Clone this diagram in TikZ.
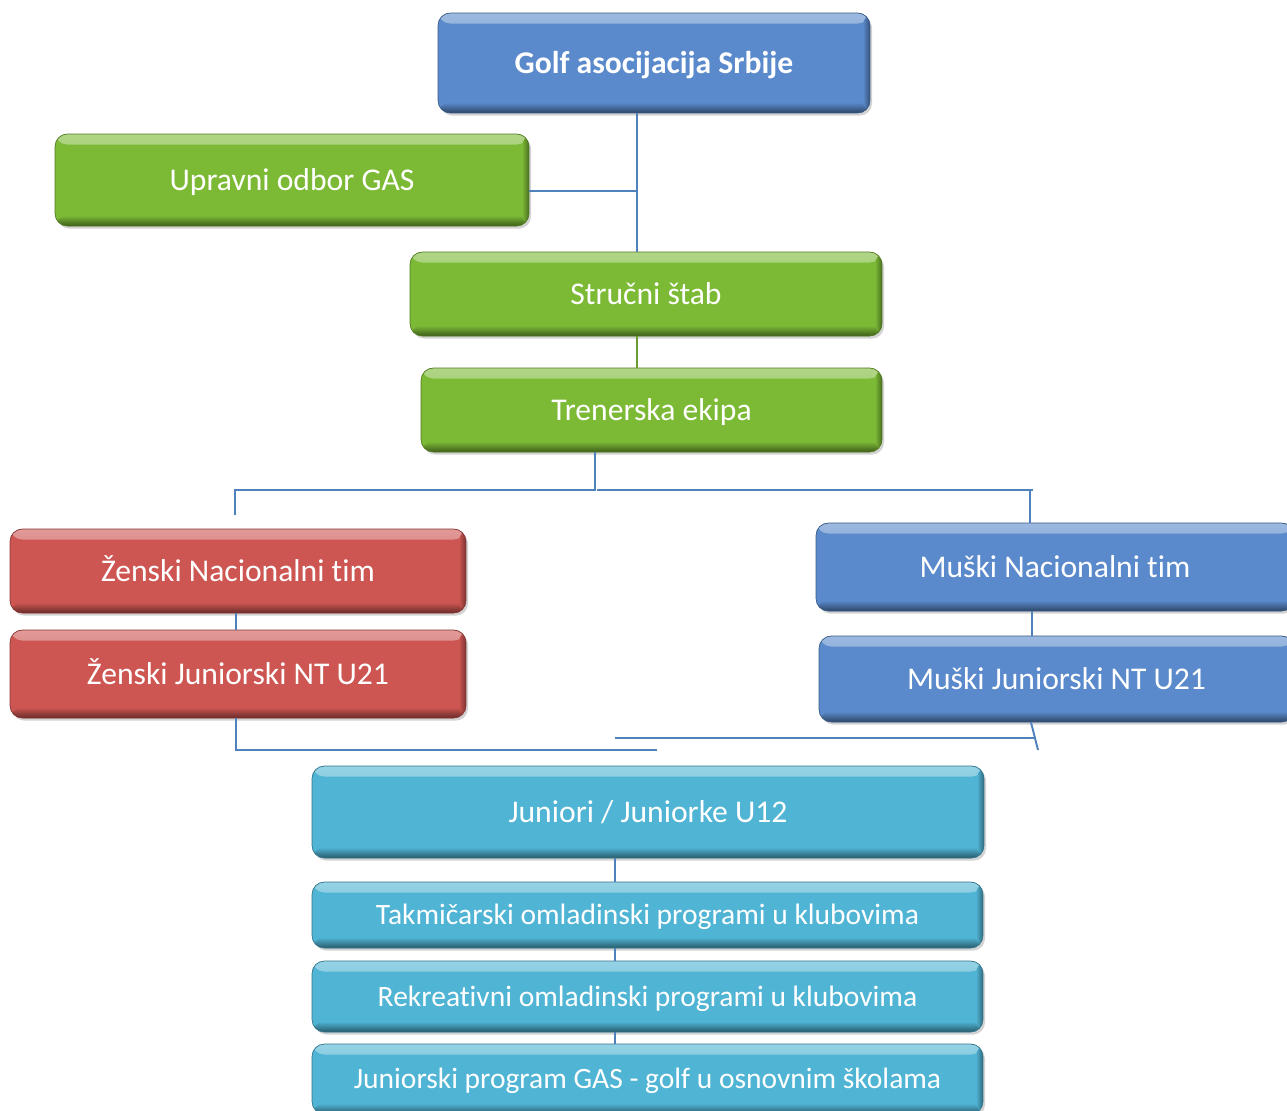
\documentclass[tikz,border=0pt]{standalone}
\usepackage{fontspec}
\setmainfont[Ligatures=NoCommon]{Carlito}
\usetikzlibrary{shadows}
\definecolor{gasblue}{HTML}{5A8ACB}
\definecolor{gasgreen}{HTML}{7CBA36}
\definecolor{gasred}{HTML}{CD5652}
\definecolor{gascyan}{HTML}{50B4D4}
\definecolor{linkblue}{HTML}{4F81BD}
\tikzset{
  box/.style={draw=#1!65!black, fill=#1, rounded corners=7pt, text=white, inner sep=0pt,
    font=\fontsize{18}{21}\selectfont, text height=12pt, text depth=0pt,
    drop shadow={shadow xshift=1.2pt, shadow yshift=-1.5pt, opacity=.35},
    path picture={
      \shade[top color=#1!60!white, bottom color=#1] (path picture bounding box.north west)
        rectangle ([yshift=-6pt]path picture bounding box.north east);
      \shade[top color=#1, bottom color=#1!50!black] ([yshift=6pt]path picture bounding box.south west)
        rectangle (path picture bounding box.south east);
      \shade[left color=#1, right color=#1!60!black] ([xshift=-4pt]path picture bounding box.south east)
        rectangle (path picture bounding box.north east);
    }},
  small/.style={font=\fontsize{16.8}{19}\selectfont, text height=11pt},
  link/.style={draw=linkblue, line width=1.1pt}
}
\begin{document}
\begin{tikzpicture}[x=0.02cm, y=-0.02cm]
\useasboundingbox (0,0) rectangle (1287,1110);
% boxes
\node[box=gasblue, minimum width=8.64cm, minimum height=2cm, font=\fontsize{18}{21}\selectfont\bfseries] (gas) at (654,63) {Golf asocijacija Srbije};
\node[box=gasgreen, minimum width=9.48cm, minimum height=1.84cm] (upravni) at (292,180) {Upravni odbor GAS};
\node[box=gasgreen, minimum width=9.44cm, minimum height=1.68cm] (strucni) at (646,294) {Stručni štab};
\node[box=gasgreen, minimum width=9.22cm, minimum height=1.68cm] (trener) at (651.5,410) {Trenerska ekipa};
\node[box=gasred, minimum width=9.12cm, minimum height=1.68cm] (zNT) at (238,571) {Ženski Nacionalni tim};
\node[box=gasred, minimum width=9.12cm, minimum height=1.76cm] (zJr) at (238,674) {Ženski Juniorski NT U21};
\node[box=gasblue, minimum width=9.56cm, minimum height=1.76cm] (mNT) at (1055,567) {Muški Nacionalni tim};
\node[box=gasblue, minimum width=9.5cm, minimum height=1.72cm] (mJr) at (1056.5,679) {Muški Juniorski NT U21};
\node[box=gascyan, minimum width=13.44cm, minimum height=1.84cm] (u12) at (648,812) {Juniori / Juniorke U12};
\node[box=gascyan, small, minimum width=13.42cm, minimum height=1.32cm] (tak) at (647.5,915) {Takmičarski omladinski programi u klubovima};
\node[box=gascyan, small, minimum width=13.42cm, minimum height=1.42cm] (rek) at (647.5,996.5) {Rekreativni omladinski programi u klubovima};
\node[box=gascyan, small, minimum width=13.42cm, minimum height=1.40cm] (jgas) at (647.5,1079) {Juniorski program GAS - golf u osnovnim školama};
% connectors
\coordinate (j1) at (637,191);
\coordinate (j2) at (595,490);
\coordinate (zl) at (235,515);
\coordinate (j3) at (597,490);
\coordinate (mr) at (1033,490);
\coordinate (mt) at (1030,490);
\coordinate (zx) at (236,0);
\coordinate (mx) at (1032,0);
\coordinate (bl) at (657,750);
\coordinate (br1) at (615,738);
\coordinate (br2) at (1035,738);
\coordinate (mx2) at (1031,0);
\coordinate (bs) at (1038,750);
\coordinate (lx) at (615,0);
\draw[link] (gas.south -| j1) -- (strucni.north -| j1);
\draw[link] (upravni.east |- j1) -- (j1);
\draw[link, draw=gasgreen!85!black] (strucni.south -| j1) -- (trener.north -| j1);
\draw[link] (trener.south -| j2) -- (j2) -| (zl);
\draw[link] (j3) -- (mr);
\draw[link] (mt) -- (mNT.north -| mt);
\draw[link] (zNT.south -| zx) -- (zJr.north -| zx);
\draw[link] (mNT.south -| mx) -- (mJr.north -| mx);
\draw[link] (zJr.south -| zx) |- (bl);
\draw[link] (br1) -- (br2);
\draw[link] (mJr.south -| mx2) -- (bs);
\draw[link] (u12.south -| lx) -- (tak.north -| lx);
\draw[link] (tak.south -| lx) -- (rek.north -| lx);
\draw[link] (rek.south -| lx) -- (jgas.north -| lx);
\end{tikzpicture}
\end{document}
